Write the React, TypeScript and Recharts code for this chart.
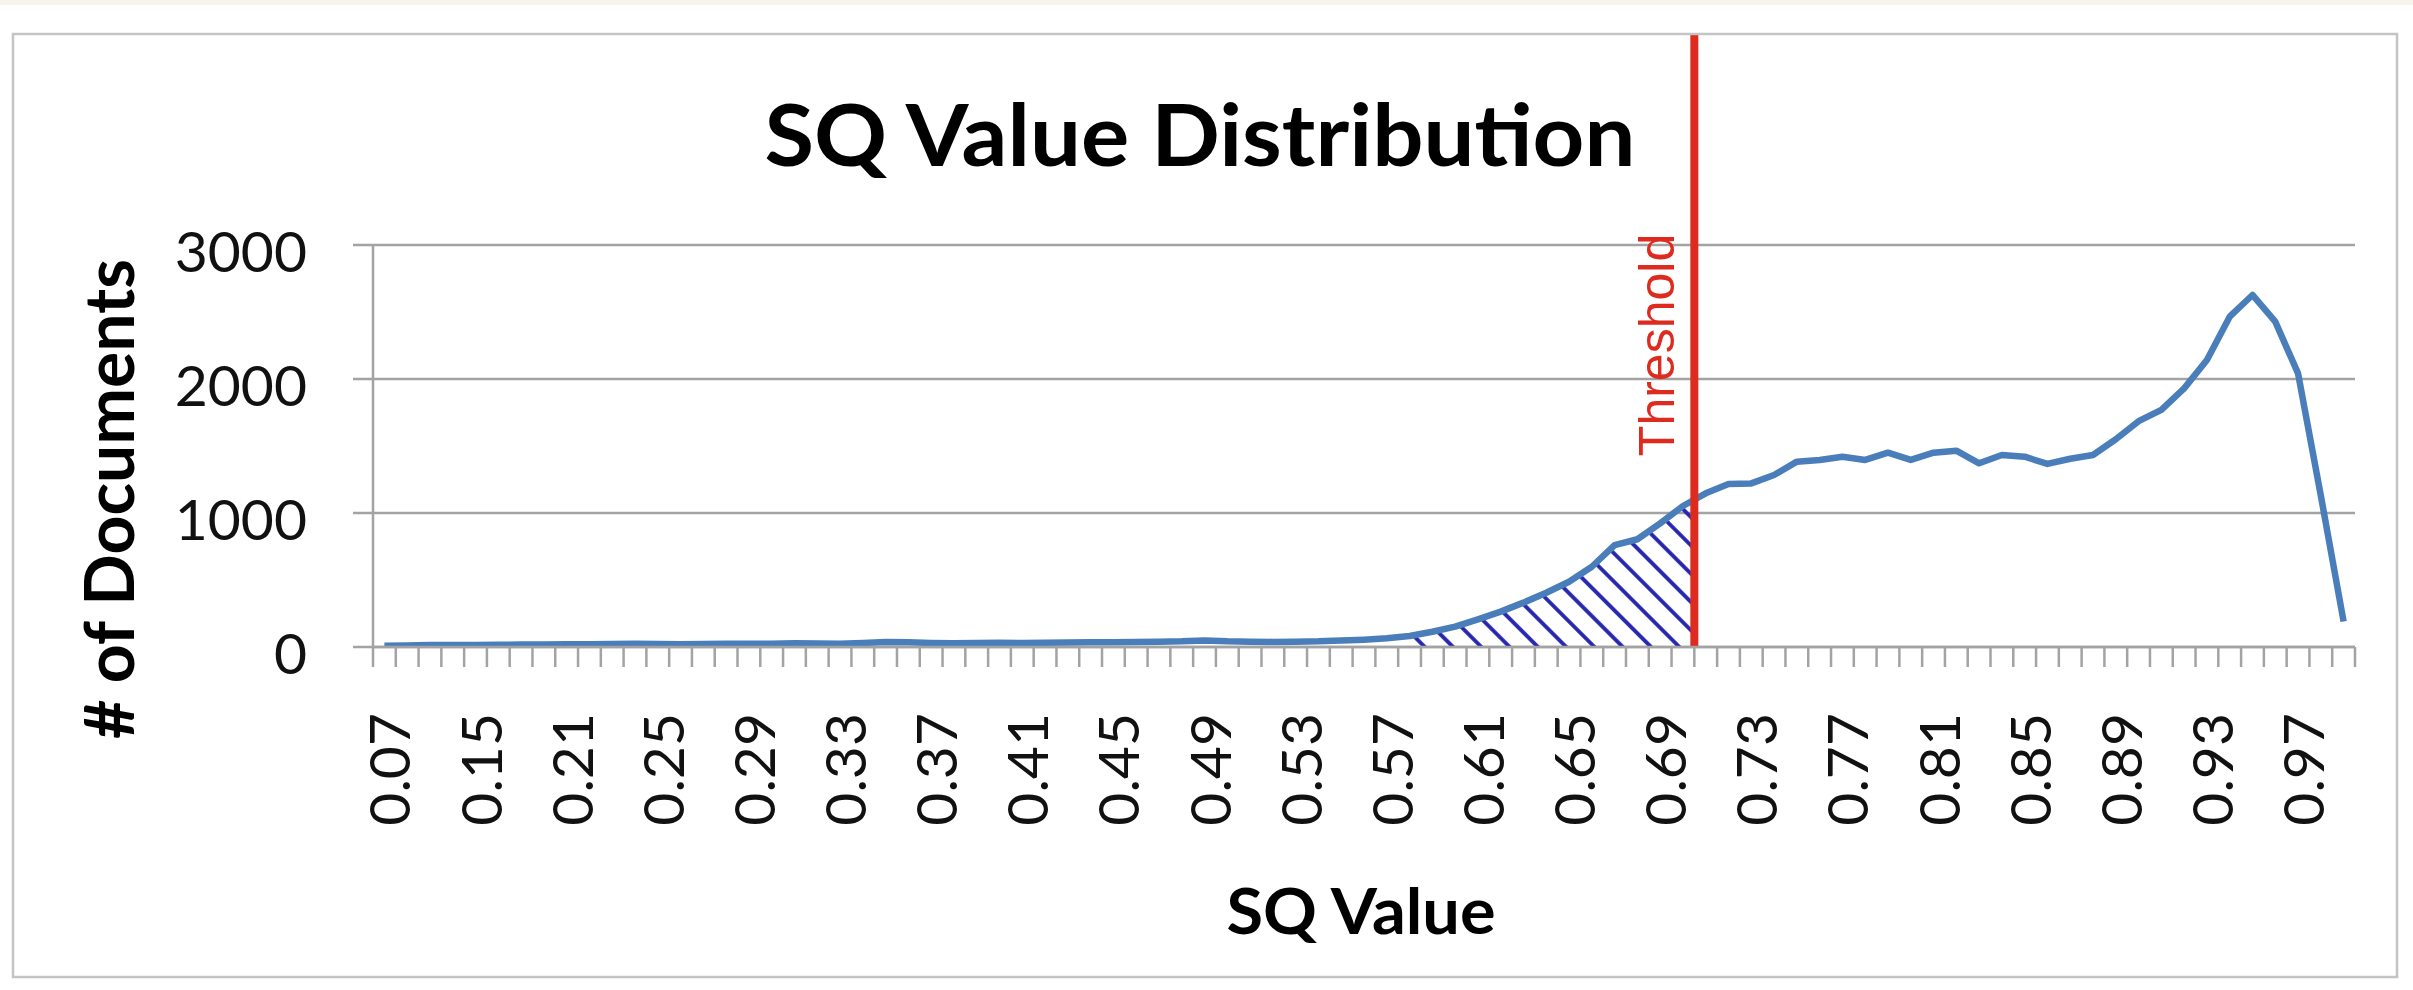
import React from 'react';
import {
  ComposedChart,
  Line,
  Area,
  XAxis,
  YAxis,
  CartesianGrid,
  ReferenceLine,
  ReferenceArea,
} from 'recharts';

// ---------- data ----------
const sqValues: string[] = [
  '0.07', '0.09', '0.11', '0.13', '0.15', '0.17', '0.18', '0.19',
  '0.21', '0.22', '0.23', '0.24', '0.25', '0.26', '0.27', '0.28',
  '0.29', '0.30', '0.31', '0.32', '0.33', '0.34', '0.35', '0.36',
  '0.37', '0.38', '0.39', '0.40', '0.41', '0.42', '0.43', '0.44',
  '0.45', '0.46', '0.47', '0.48', '0.49', '0.50', '0.51', '0.52',
  '0.53', '0.54', '0.55', '0.56', '0.57', '0.58', '0.59', '0.60',
  '0.61', '0.62', '0.63', '0.64', '0.65', '0.66', '0.67', '0.68',
  '0.69', '0.70', '0.71', '0.72', '0.73', '0.74', '0.75', '0.76',
  '0.77', '0.78', '0.79', '0.80', '0.81', '0.82', '0.83', '0.84',
  '0.85', '0.86', '0.87', '0.88', '0.89', '0.90', '0.91', '0.92',
  '0.93', '0.94', '0.95', '0.96', '0.97', '0.98', '0.99',
];

const docCounts: number[] = [
  10, 12, 14, 15, 15, 17, 18, 18,
  20, 20, 22, 25, 22, 20, 22, 25,
  24, 25, 28, 26, 25, 30, 38, 35,
  30, 28, 30, 32, 30, 32, 34, 35,
  35, 38, 40, 42, 48, 42, 40, 38,
  40, 42, 48, 55, 65, 82, 114, 152,
  206, 264, 331, 405, 487, 599, 761, 804,
  923, 1052, 1147, 1216, 1221, 1284, 1383, 1396,
  1420, 1396, 1450, 1396, 1450, 1465, 1371, 1433,
  1420, 1366, 1405, 1433, 1550, 1685, 1769, 1930,
  2142, 2465, 2627, 2428, 2042, 1130, 190,
];

const yTicks: number[] = [0, 1000, 2000, 3000];
const thresholdValue = '0.70';
const hatchStart = '0.58';
const thresholdTop = 4575; // top end of the threshold marker, in data units

const chartTitle = 'SQ Value Distribution';
const xTitle = 'SQ Value';
const yTitle = '# of Documents';
const thresholdText = 'Threshold';

const data = sqValues.map((sq, i) => ({ sq, count: docCounts[i] }));

// ---------- styles ----------
const W = 2413;
const H = 990;
const GRID = '#a3a3a3';
const LINE = '#4a7ebb';
const RED = '#dd2b1f';
const HATCH = '#2424b0';
const TICK_FONT = 'Lato, "Open Sans", sans-serif';
const TITLE_FONT = 'Lato, "Open Sans", sans-serif';

function XTick(props: any) {
  const { x, y, payload, index, visibleTicksCount, width } = props;
  const count = visibleTicksCount || sqValues.length;
  const half =
    payload && typeof payload.offset === 'number' && payload.offset > 0
      ? payload.offset
      : width / count / 2;
  const lx = x - half;
  const tx = x + 26;
  const ty = y + 66;
  return (
    <g>
      <line x1={lx} x2={lx} y1={y} y2={y + 20} stroke={GRID} strokeWidth={2.5} />
      {index === count - 1 && (
        <line x1={x + half} x2={x + half} y1={y} y2={y + 20} stroke={GRID} strokeWidth={2.5} />
      )}
      {index % 4 === 0 && (
        <text
          x={tx}
          y={ty}
          transform={`rotate(-90 ${tx} ${ty})`}
          textAnchor="end"
          fontFamily={TICK_FONT}
          fontSize={57}
          fill="#111"
        >
          {payload.value}
        </text>
      )}
    </g>
  );
}

function YTick(props: any) {
  const { x, y, payload } = props;
  return (
    <text x={x} y={y + 27} textAnchor="end" fontFamily={TICK_FONT} fontSize={57} fill="#111">
      {payload.value}
    </text>
  );
}

function ThresholdLabel(props: any) {
  const vb = props.viewBox || { x: 0, y: 0 };
  const bx = vb.x - 20;
  const cy = vb.y + 311;
  return (
    <text
      x={bx}
      y={cy}
      transform={`rotate(-90 ${bx} ${cy})`}
      textAnchor="middle"
      fontFamily='"Liberation Sans", Arial, sans-serif'
      fontSize={50}
      fill={RED}
    >
      {thresholdText}
    </text>
  );
}

function HatchClip(props: any) {
  return (
    <defs>
      <pattern
        id="hatch"
        patternUnits="userSpaceOnUse"
        width={20}
        height={20}
        patternTransform="rotate(45)"
      >
        <line x1={0} y1={10} x2={20} y2={10} stroke={HATCH} strokeWidth={3.8} />
      </pattern>
      <clipPath id="hatchClip">
        <rect x={props.x} y={props.y} width={props.width} height={props.height} />
      </clipPath>
    </defs>
  );
}

export default function App() {
  return (
    <div
      style={{
        position: 'absolute',
        left: 0,
        top: 0,
        width: W,
        height: H,
        background: '#ffffff',
        overflow: 'hidden',
      }}
    >
      <style>{`.hatch-area path { clip-path: url(#hatchClip); }`}</style>
      <div style={{ position: 'absolute', left: 0, top: 0 }}>
        <ComposedChart
          width={W}
          height={H}
          data={data}
          margin={{ top: 245, right: 58, bottom: 0, left: 0 }}
        >
          <CartesianGrid horizontal vertical={false} stroke={GRID} strokeWidth={2.5} />
          <XAxis
            dataKey="sq"
            type="category"
            scale="band"
            interval={0}
            height={343}
            tickSize={0}
            tickMargin={0}
            tickLine={false}
            axisLine={{ stroke: GRID, strokeWidth: 2.5 }}
            tick={<XTick />}
          />
          <YAxis
            type="number"
            domain={[0, 3000]}
            ticks={yTicks}
            width={373}
            tickSize={20}
            tickMargin={46}
            tickLine={{ stroke: GRID, strokeWidth: 2.5 }}
            axisLine={{ stroke: GRID, strokeWidth: 2.5 }}
            tick={<YTick />}
            allowDataOverflow
          />
          <ReferenceArea x1={hatchStart} x2={thresholdValue} shape={HatchClip} />
          <Area
            dataKey="count"
            type="linear"
            className="hatch-area"
            fill="url(#hatch)"
            fillOpacity={1}
            stroke="none"
            activeDot={false}
            isAnimationActive={false}
          />
          <Line
            dataKey="count"
            type="linear"
            stroke={LINE}
            strokeWidth={6.5}
            strokeLinejoin="round"
            dot={false}
            activeDot={false}
            isAnimationActive={false}
          />
          <ReferenceLine
            segment={[
              { x: thresholdValue, y: 0 },
              { x: thresholdValue, y: thresholdTop },
            ]}
            position="end"
            stroke={RED}
            strokeWidth={8}
            ifOverflow="visible"
            label={(p: any) => <ThresholdLabel viewBox={p.viewBox} />}
          />
        </ComposedChart>
      </div>
      <svg
        width={W}
        height={H}
        style={{ position: 'absolute', left: 0, top: 0, pointerEvents: 'none' }}
      >
        <rect x={0} y={0} width={W} height={5} fill="#f6f4ed" />
        <rect x={13} y={34} width={2384} height={943} fill="none" stroke="#c4c4c4" strokeWidth={2.5} />
        <text
          x={1200}
          y={166}
          textAnchor="middle"
          fontFamily={TITLE_FONT}
          fontWeight={700}
          fontSize={86}
          textLength={871}
          lengthAdjust="spacingAndGlyphs"
          fill="#000"
        >
          {chartTitle}
        </text>
        <text
          x={1361}
          y={934}
          textAnchor="middle"
          fontFamily={TITLE_FONT}
          fontWeight={700}
          fontSize={64}
          textLength={269}
          lengthAdjust="spacingAndGlyphs"
          fill="#000"
        >
          {xTitle}
        </text>
        <text
          x={134}
          y={499}
          transform="rotate(-90 134 499)"
          textAnchor="middle"
          fontFamily={TITLE_FONT}
          fontWeight={700}
          fontSize={68}
          textLength={480}
          lengthAdjust="spacingAndGlyphs"
          fill="#000"
        >
          {yTitle}
        </text>
      </svg>
    </div>
  );
}
